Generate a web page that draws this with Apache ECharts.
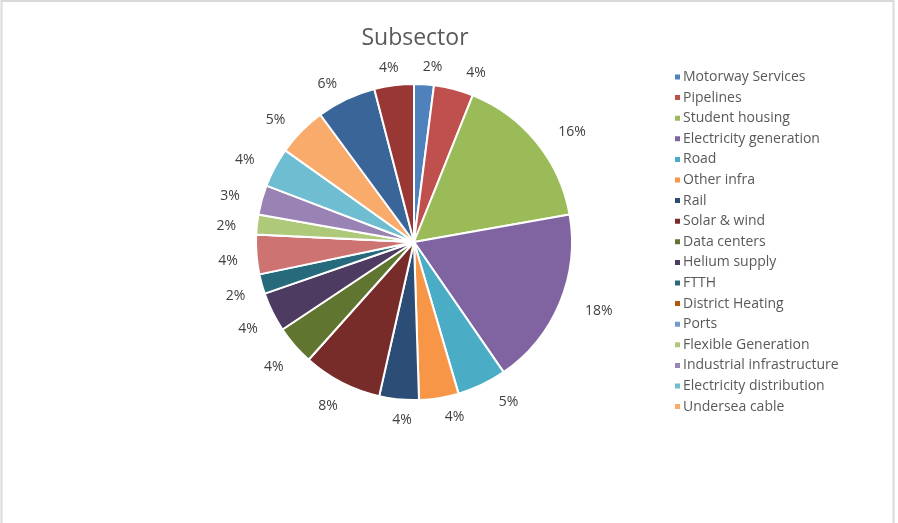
<!DOCTYPE html>
<html>
<head>
<meta charset="utf-8">
<style>
  html, body { margin: 0; padding: 0; background: #ffffff; }
  #chart { width: 898px; height: 523px; }
</style>
<script src="https://cdn.jsdelivr.net/npm/echarts@6/dist/echarts.min.js"></script>
</head>
<body>
<div id="chart"></div>
<script>
// Subsector split, in percent, clockwise from 12 o'clock
const subsectors = [
  'Motorway Services', 'Pipelines', 'Student housing', 'Electricity generation',
  'Road', 'Other infra', 'Rail', 'Solar & wind', 'Data centers', 'Helium supply',
  'FTTH', 'District Heating', 'Ports', 'Flexible Generation',
  'Industrial infrastructure', 'Electricity distribution', 'Undersea cable',
  'Social infrastructure', 'Energy storage'
];
const shares = [2, 4, 16, 18, 5, 4, 4, 8, 4, 4, 2, 4, 0, 2, 3, 4, 5, 6, 4];

// Slice fills
const sliceColors = [
  '#4F81BD', '#C0504D', '#9BBB59', '#8064A2', '#4BACC6', '#F79646',
  '#2C4D75', '#772C2A', '#5F7530', '#4D3B62', '#276A7C', '#CD7371',
  '#729ACA', '#AFC97A', '#9983B5', '#6FBDD1', '#F9AB6B', '#3A6599', '#983734'
];
// Legend swatches (the legend only has room for the first 17 entries)
const legendColors = [
  '#4F81BD', '#C0504D', '#9BBB59', '#8064A2', '#4BACC6', '#F79646',
  '#2C4D75', '#772C2A', '#5F7530', '#4D3B62', '#276A7C', '#B65708',
  '#729ACA', '#AFC97A', '#9983B5', '#6FBDD1', '#F9AB6B'
];

const FONT = '"Open Sans", "Liberation Sans", sans-serif';
const CENTER = [414, 242];
const RADIUS = 158;

const chart = echarts.init(document.getElementById('chart'), null, { renderer: 'canvas' });

const pieData = subsectors.map((name, i) => ({
  name: name,
  value: shares[i],
  itemStyle: { color: sliceColors[i] },
  label: { show: shares[i] > 0 }
}));

const legendData = legendColors.map((c, i) => ({
  name: subsectors[i],
  itemStyle: { color: c }
}));

// Mid-angle of each slice (radians, clockwise from 12 o'clock)
const total = shares.reduce((a, b) => a + b, 0);
const midAngles = [];
let acc = 0;
shares.forEach(v => {
  midAngles.push(((acc + v / 2) / total) * Math.PI * 2);
  acc += v;
});

// Percentage labels sit just outside each slice; the text box is pushed
// sideways by about half its width so it clears the rim on the left/right,
// and the lower-left labels drop a little further away from the rim.
function placeLabel(params) {
  const a = midAngles[params.dataIndex];
  const s = Math.sin(a), c = Math.cos(a);
  const side = Math.max(-1, Math.min(1, s / 0.25));
  const low = Math.max(0, 0.3 - c);
  const dropY = 12 * Math.max(0, -s) * low;
  const shiftX = s < 0 ? 6 * Math.min(1, low * 2) : 0;
  return {
    x: CENTER[0] + 4 + (RADIUS + 25) * s + 12 * side + shiftX,
    y: CENTER[1] + 1 - (RADIUS + 18) * c + dropY,
    align: 'center',
    verticalAlign: 'middle'
  };
}

chart.setOption({
  animation: false,
  backgroundColor: '#ffffff',
  title: {
    text: 'Subsector',
    left: 410,
    top: 22,
    textAlign: 'center',
    textStyle: { fontFamily: FONT, fontSize: 23, fontWeight: 'normal', color: '#595959' }
  },
  legend: {
    orient: 'vertical',
    left: 668,
    top: 65,
    icon: 'rect',
    itemWidth: 7,
    itemHeight: 7,
    itemGap: 6.6,
    selectedMode: false,
    data: legendData,
    textStyle: { fontFamily: FONT, fontSize: 14, color: '#595959', lineHeight: 14, padding: [0, 0, 0, -3] }
  },
  graphic: [
    {
      type: 'polyline',
      silent: true,
      shape: { points: [[1.5, 523], [1.5, 1], [893.5, 1], [893.5, 523]] },
      style: { stroke: '#d9d9d9', lineWidth: 2, fill: null }
    }
  ],
  series: [
    {
      type: 'pie',
      center: CENTER,
      radius: [0, RADIUS],
      startAngle: 90,
      clockwise: true,
      minAngle: 0,
      avoidLabelOverlap: false,
      itemStyle: { borderColor: '#ffffff', borderWidth: 2 },
      label: {
        position: 'outside',
        formatter: '{c}%',
        fontFamily: FONT,
        fontSize: 14,
        color: '#404040'
      },
      labelLine: { show: false, length: 18, length2: 5 },
      labelLayout: placeLabel,
      data: pieData
    }
  ]
});
</script>
</body>
</html>
